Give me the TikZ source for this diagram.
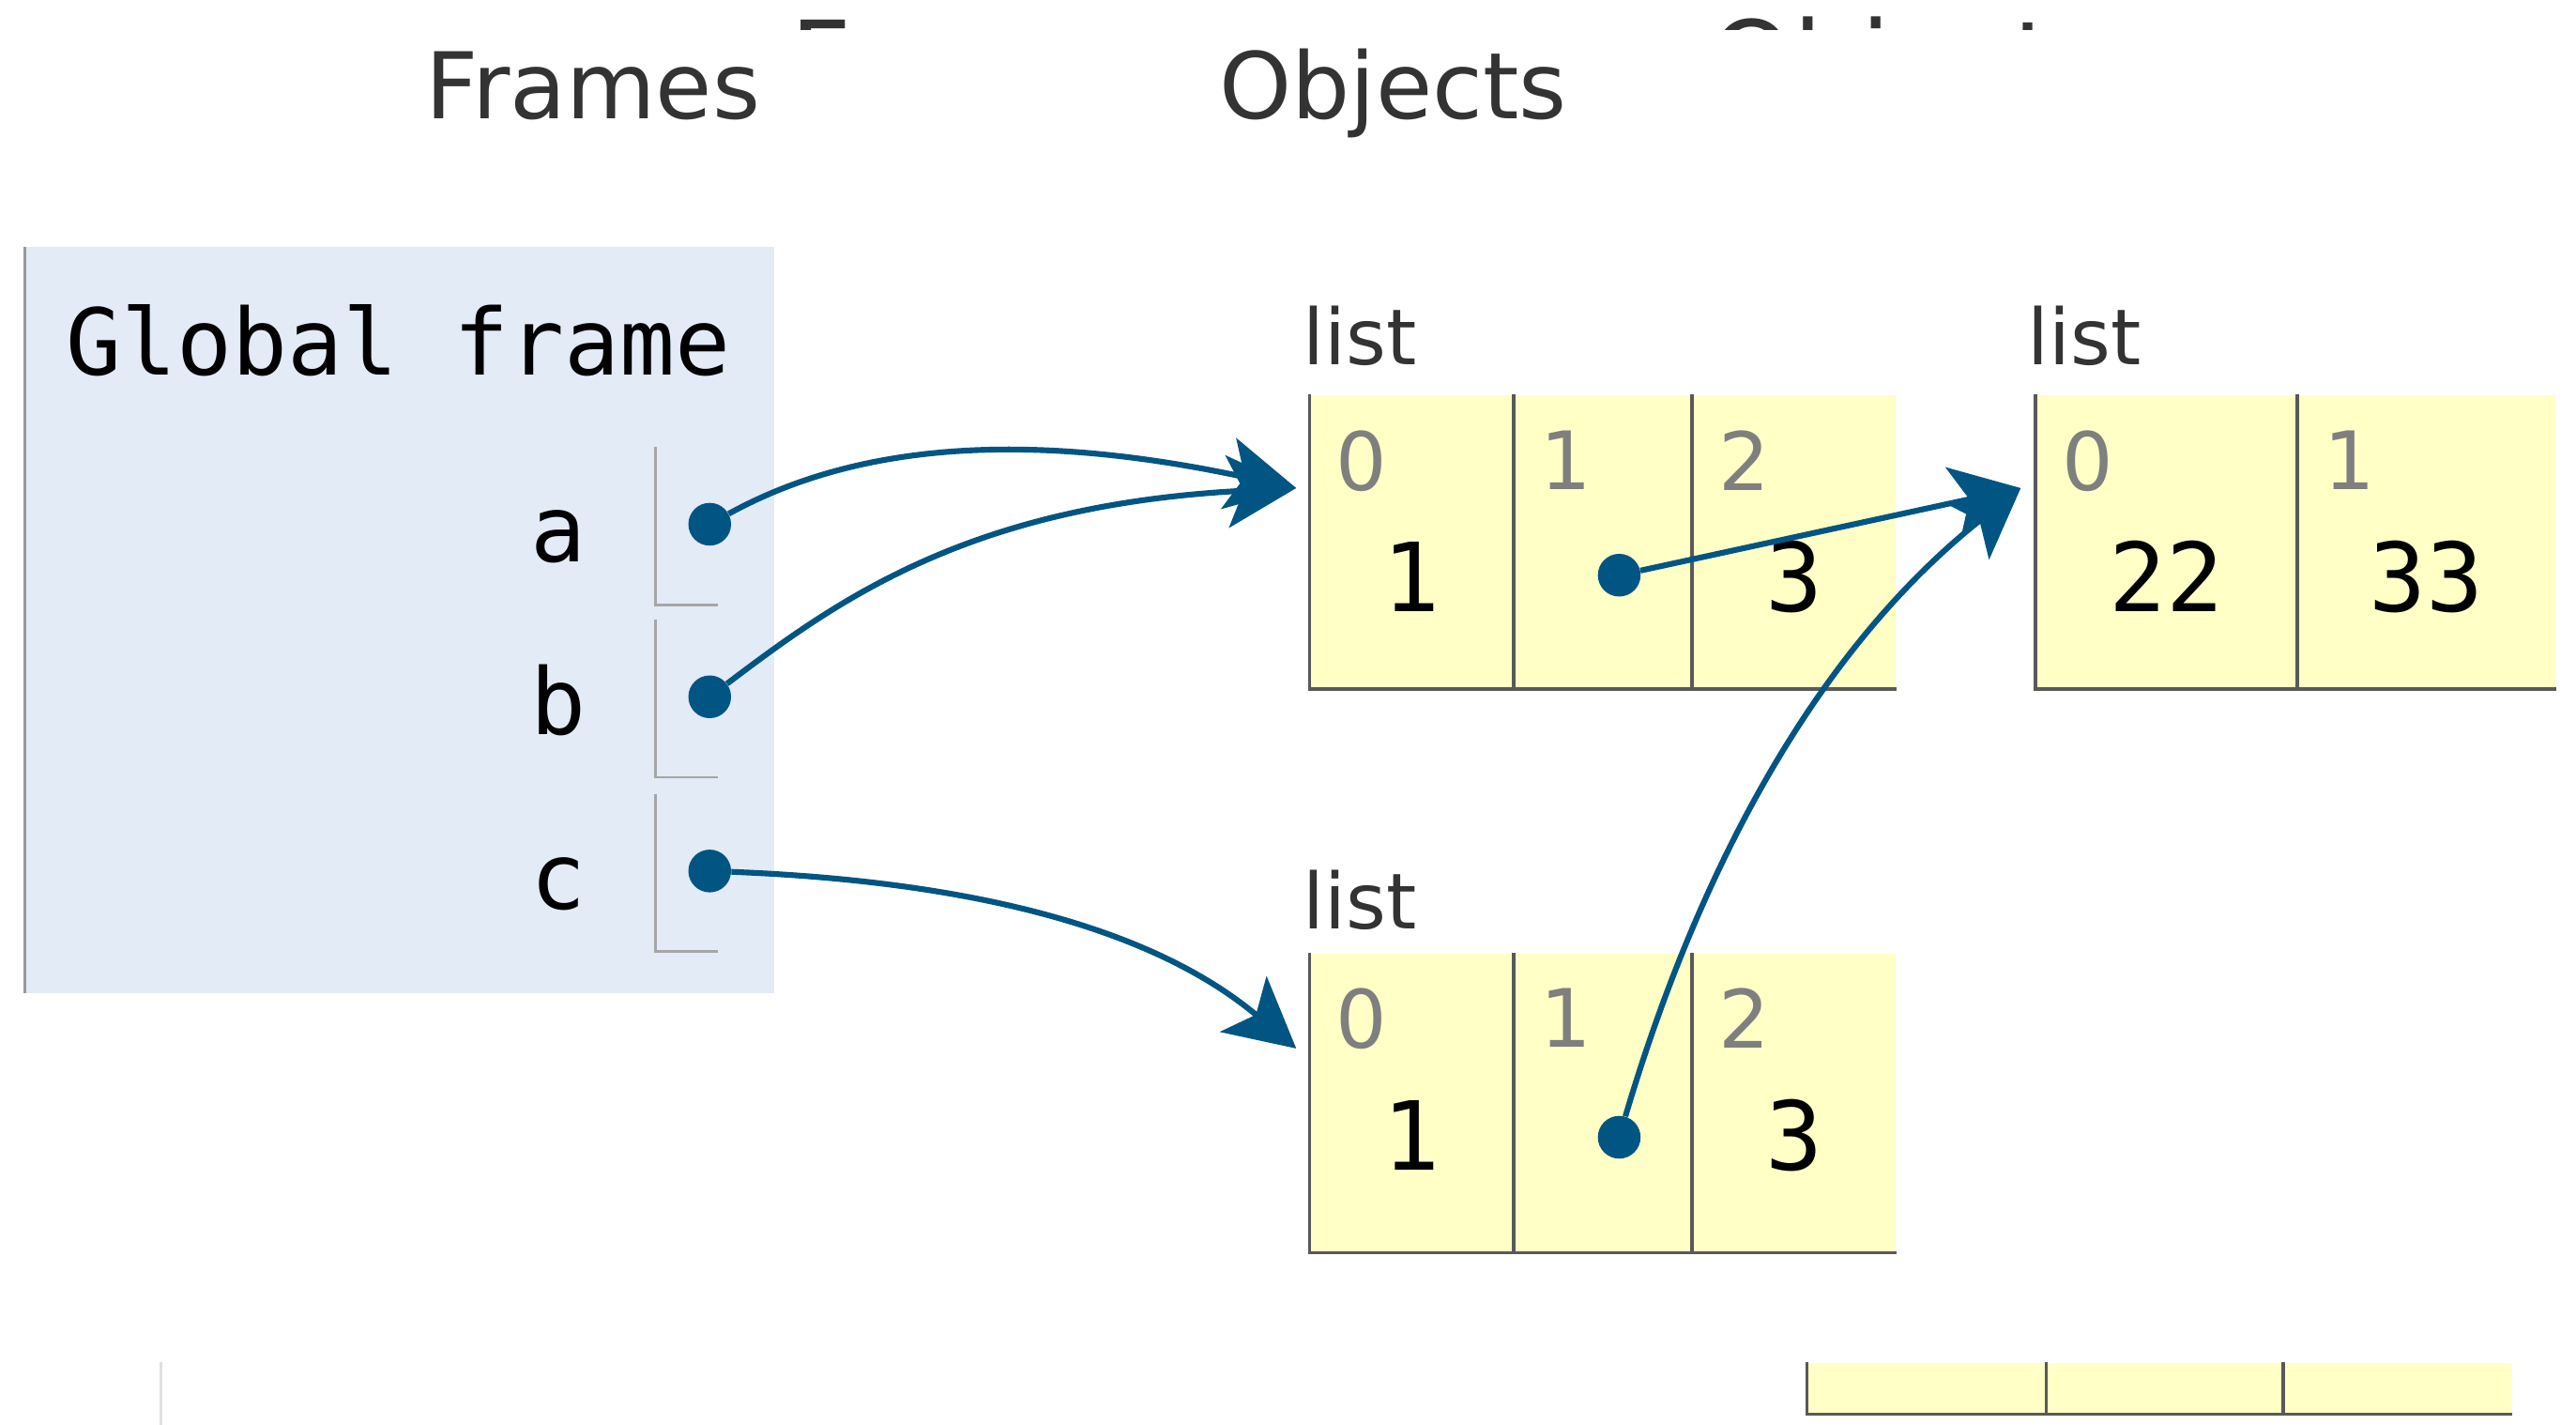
\documentclass[tikz,border=0pt]{standalone}
\usepackage{fontspec}
\setmainfont{DejaVu Sans}
\setmonofont{DejaVu Sans Mono}
\usetikzlibrary{positioning,arrows.meta}
\definecolor{refblue}{HTML}{005583}
\definecolor{framebg}{HTML}{E2EBF6}
\definecolor{heapyellow}{HTML}{FFFFC6}
\definecolor{idxgrey}{HTML}{7F7F7F}
\tikzset{
  head/.style={font=\fontsize{56}{60}\selectfont,text=black!80,inner sep=0,anchor=base west},
  mono/.style={font=\ttfamily\fontsize{56}{60}\selectfont,inner sep=0},
  framebox/.style={fill=framebg,inner sep=0,anchor=north west},
  slot/.style={draw=black!35,line width=1.5pt},
  typelbl/.style={font=\fontsize{47}{50}\selectfont,text=black!80,inner sep=0,anchor=base west},
  cell/.style={fill=heapyellow,inner sep=0,minimum height=179pt},
  cellline/.style={draw=black!65,line width=2pt},
  idx/.style={font=\fontsize{49}{52}\selectfont,text=idxgrey,inner sep=0},
  val/.style={font=\ttfamily\fontsize{58}{60}\selectfont,inner sep=0,anchor=base},
  ptr/.style={circle,fill=refblue,minimum size=26pt,inner sep=0},
  ref/.style={draw=refblue,line width=3.5pt,-{Stealth[length=42pt,width=44pt,inset=10pt]}}
}

\begin{document}
\begin{tikzpicture}[x=1pt,y=-1pt]
  \useasboundingbox (0,0) rectangle (1568,867);

  % titles (and the cut-off copy above them)
  \begin{scope}
    \clip (0,0) rectangle (1568,18);
    \node [head,scale=1.15] (ghostframes) at (481,59) {Frames};
    \node [head,scale=1.15] (ghostobjects) at (1041,59) {Objects};
  \end{scope}
  \node [head] (frames) at (259,72) {Frames};
  \node [head] (objects) at (742,72) {Objects};

  % global frame
  \node [framebox,minimum width=456pt,minimum height=454pt] (gf) at (15,150) {};
  \draw [draw=black!40,line width=2pt] (gf.north west) -- (gf.south west);
  \node [mono,anchor=base west] (gftitle) at (40,228) {Global frame};

  \node [mono,anchor=base east] (va) at (357,342) {a};
  \node [mono,anchor=base east] (vb) at (357,447) {b};
  \node [mono,anchor=base east] (vc) at (357,553) {c};
  \node [ptr] (fa) at (432,319) {};
  \node [ptr] (fb) at (432,424) {};
  \node [ptr] (fc) at (432,530) {};
  \foreach \v in {fa,fb,fc}
    \draw [slot] ([xshift=-33pt,yshift=47pt]\v.center) |- ([xshift=5pt,yshift=-49pt]\v.center);

  % list [1, ., 3]
  \node [typelbl] (l1type) at (793,222) {list};
  \node [cell,anchor=north west,minimum width=124pt] (l1c0) at (797,240) {};
  \node [cell,minimum width=108pt] (l1c1) [right=0pt of l1c0] {};
  \node [cell,minimum width=124pt] (l1c2) [right=0pt of l1c1] {};

  % list [22, 33]
  \node [typelbl] (l2type) at (1234,222) {list};
  \node [cell,anchor=north west,minimum width=159pt] (l2c0) at (1239,240) {};
  \node [cell,minimum width=157pt] (l2c1) [right=0pt of l2c0] {};

  % list [1, ., 3] below
  \node [typelbl] (l3type) at (793,565) {list};
  \node [cell,anchor=north west,minimum width=124pt,minimum height=182pt] (l3c0) at (797,580) {};
  \node [cell,minimum width=108pt,minimum height=182pt] (l3c1) [right=0pt of l3c0] {};
  \node [cell,minimum width=124pt,minimum height=182pt] (l3c2) [right=0pt of l3c1] {};

  % partly shown list at the bottom edge
  \node [cell,anchor=north west,minimum width=145pt,minimum height=31pt] (l4c0) at (1100,829) {};
  \node [cell,minimum width=144pt,minimum height=31pt] (l4c1) [right=0pt of l4c0] {};
  \node [cell,minimum width=139pt,minimum height=31pt] (l4c2) [right=0pt of l4c1] {};
  \draw [draw=black!12,line width=2pt] (98,829) -- (98,867);

  \foreach \c in {l1c0,l1c1,l1c2,l2c0,l2c1,l3c0,l3c1,l3c2,l4c0,l4c1,l4c2}
    \draw [cellline] (\c.north west) |- (\c.south east);

  % indices
  \node [idx] (l1i0) [below right=22pt and 16pt of l1c0.north west] {0};
  \node [idx] (l1i1) [below right=22pt and 16pt of l1c1.north west] {1};
  \node [idx] (l1i2) [below right=22pt and 16pt of l1c2.north west] {2};
  \node [idx] (l2i0) [below right=22pt and 16pt of l2c0.north west] {0};
  \node [idx] (l2i1) [below right=22pt and 16pt of l2c1.north west] {1};
  \node [idx] (l3i0) [below right=21pt and 16pt of l3c0.north west] {0};
  \node [idx] (l3i1) [below right=21pt and 16pt of l3c1.north west] {1};
  \node [idx] (l3i2) [below right=21pt and 16pt of l3c2.north west] {2};

  % values
  \node [val] (l1v0) at ([yshift=-132pt]l1c0.north) {1};
  \node [val] (l1v2) at ([yshift=-132pt]l1c2.north) {3};
  \node [val] (l2v0) at ([yshift=-132pt]l2c0.north) {22};
  \node [val] (l2v1) at ([yshift=-132pt]l2c1.north) {33};
  \node [val] (l3v0) at ([yshift=-132pt]l3c0.north) {1};
  \node [val] (l3v2) at ([yshift=-132pt]l3c2.north) {3};
  \node [ptr] (l1p) at ([xshift=10pt,yshift=-110pt]l1c1.north) {};
  \node [ptr] (l3p) at ([xshift=10pt,yshift=-112pt]l3c1.north) {};

  % arrow ends
  \coordinate (l1in) at ([xshift=-8pt,yshift=-57pt]l1c0.north west);
  \coordinate (l2in) at ([xshift=-9pt,yshift=-57pt]l2c0.north west);
  \coordinate (l3in) at ([xshift=-8pt,yshift=-58pt]l3c0.north west);

  \draw [ref] (fa) .. controls +(98,-54) and +(-149,-32) .. (l1in);
  \draw [ref] (fb) .. controls +(78,-59) and +(-199,10) .. (l1in);
  \draw [ref] (fc) .. controls +(128,5) and +(-99,-83) .. (l3in);
  \draw [ref] (l1p) -- (l2in);
  \draw [ref] (l3p) .. controls +(45,-152) and +(-130,103) .. (l2in);
\end{tikzpicture}
\end{document}
